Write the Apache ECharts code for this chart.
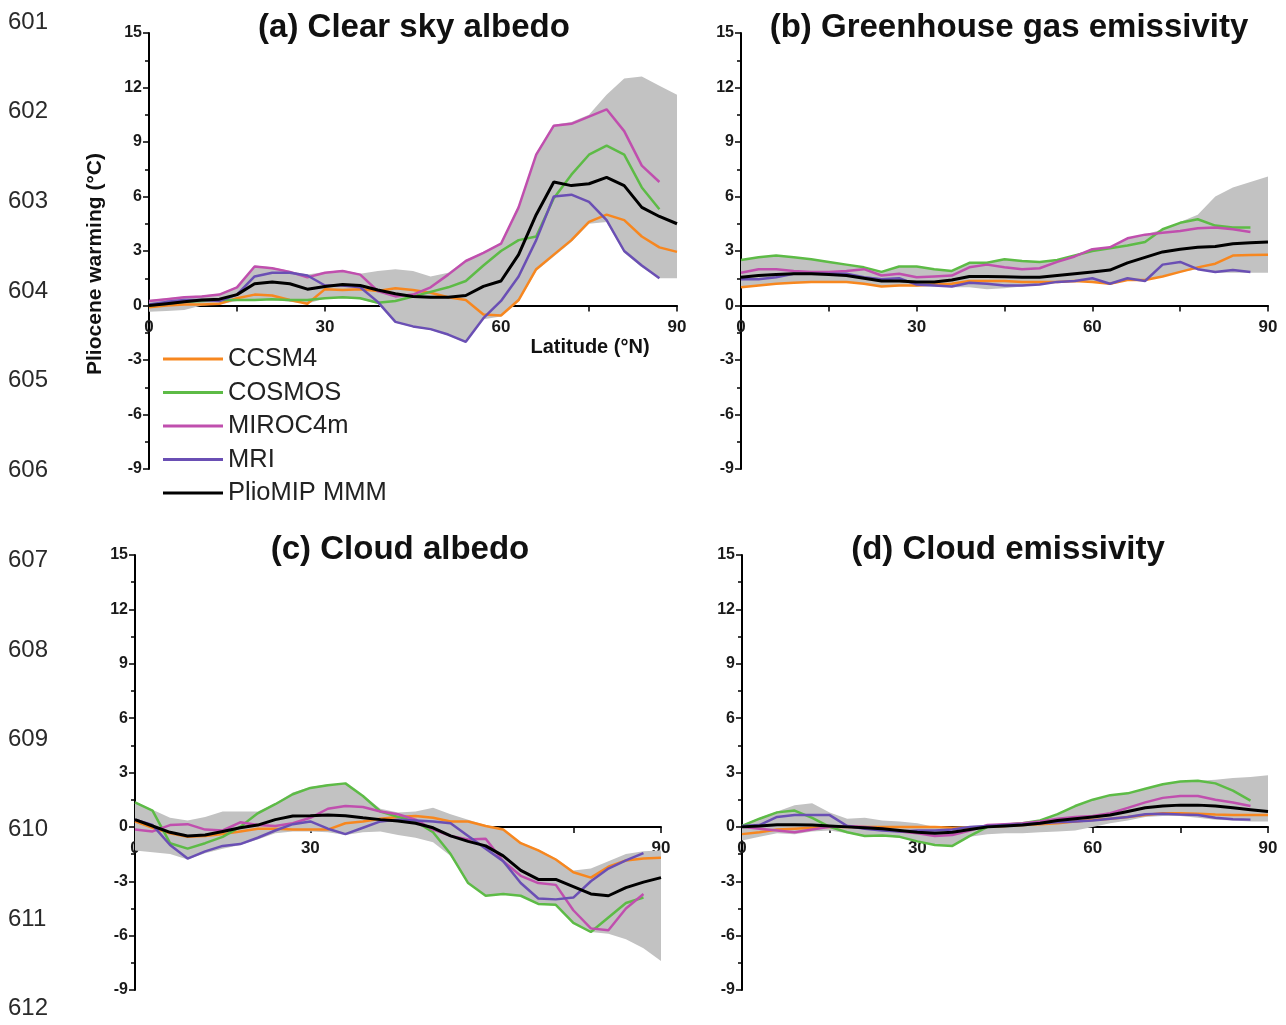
<!DOCTYPE html>
<html>
<head>
<meta charset="utf-8">
<script src="https://cdn.jsdelivr.net/npm/echarts@6/dist/echarts.min.js"></script>
<style>
  html, body { margin: 0; padding: 0; background: #fff; }
  #main { width: 1286px; height: 1025px; }
</style>
</head>
<body>
<div id="main"></div>
<script>
// latitude grid (deg N), shared by every panel
var lat = [0, 3, 6, 9, 12, 15, 18, 21, 24, 27, 30, 33, 36, 39, 42, 45, 48, 51, 54, 57, 60, 63, 66, 69, 72, 75, 78, 81, 84, 87, 90];
var modelNames = ['CCSM4', 'COSMOS', 'MIROC4m', 'MRI', 'PlioMIP MMM'];
var modelColors = ['#f7871f', '#5dbb46', '#c04fae', '#6a4fb4', '#000000'];
var lineNumbers = ['601', '602', '603', '604', '605', '606', '607', '608', '609', '610', '611', '612'];
var yTicks = [-9, 15, 3];   // min, max, step
var xTicks = [0, 90, 30];

// (a) Clear sky albedo
var aCCSM4 = [-0.1, 0.0, 0.05, 0.05, 0.1, 0.4, 0.6, 0.55, 0.3, 0.1, 0.9, 0.85, 0.9, 0.8, 0.95, 0.85, 0.7, 0.45, 0.3, -0.5, -0.55, 0.3, 2.0, 2.8, 3.6, 4.6, 5.0, 4.7, 3.8, 3.2, 2.95];
var aCOSMOS = [0.0, 0.1, 0.2, 0.25, 0.3, 0.3, 0.3, 0.35, 0.3, 0.3, 0.4, 0.45, 0.4, 0.15, 0.25, 0.5, 0.75, 1.0, 1.35, 2.2, 3.0, 3.6, 3.8, 5.9, 7.2, 8.3, 8.8, 8.3, 6.5, 5.3, null];
var aMIROC = [0.25, 0.35, 0.45, 0.5, 0.6, 1.0, 2.15, 2.05, 1.85, 1.55, 1.8, 1.9, 1.7, 0.8, 0.5, 0.6, 1.0, 1.7, 2.45, 2.9, 3.4, 5.4, 8.3, 9.9, 10.0, 10.4, 10.8, 9.6, 7.7, 6.8, null];
var aMRI = [0.05, 0.2, 0.3, 0.3, 0.25, 0.6, 1.6, 1.8, 1.8, 1.65, 1.1, 1.1, 1.0, 0.2, -0.9, -1.15, -1.3, -1.6, -2.0, -0.7, 0.25, 1.6, 3.6, 6.0, 6.1, 5.7, 4.7, 3.0, 2.2, 1.5, null];
var aMMM = [0.0, 0.1, 0.2, 0.3, 0.35, 0.6, 1.2, 1.3, 1.2, 0.9, 1.05, 1.15, 1.1, 0.85, 0.65, 0.5, 0.45, 0.45, 0.55, 1.05, 1.35, 2.8, 5.0, 6.8, 6.6, 6.7, 7.05, 6.6, 5.4, 4.9, 4.5];
var aLo = [-0.35, -0.3, -0.25, 0.0, 0.05, 0.25, 0.3, 0.3, 0.2, 0.1, 0.4, 0.4, 0.35, 0.1, -0.95, -1.2, -1.35, -1.65, -2.05, -0.75, -0.6, 0.2, 1.9, 2.7, 3.5, 4.5, 4.6, 2.9, 2.1, 1.5, 1.5];
var aHi = [0.3, 0.4, 0.5, 0.55, 0.65, 1.05, 2.2, 2.1, 1.9, 1.7, 1.85, 1.95, 1.75, 1.9, 2.0, 1.9, 1.6, 1.8, 2.5, 2.95, 3.45, 5.5, 8.4, 9.95, 10.1, 10.5, 11.6, 12.5, 12.6, 12.1, 11.6];

// (b) Greenhouse gas emissivity
var bCCSM4 = [1.0, 1.1, 1.2, 1.25, 1.3, 1.3, 1.3, 1.2, 1.05, 1.1, 1.1, 1.15, 1.2, 1.35, 1.35, 1.35, 1.3, 1.3, 1.3, 1.35, 1.3, 1.2, 1.4, 1.4, 1.6, 1.85, 2.1, 2.3, 2.75, 2.78, 2.8];
var bCOSMOS = [2.5, 2.65, 2.75, 2.65, 2.55, 2.4, 2.25, 2.1, 1.85, 2.15, 2.15, 2.0, 1.9, 2.35, 2.35, 2.55, 2.45, 2.4, 2.5, 2.75, 3.0, 3.15, 3.3, 3.5, 4.2, 4.55, 4.75, 4.4, 4.3, 4.3, null];
var bMIROC = [1.8, 2.0, 2.0, 1.9, 1.85, 1.85, 1.9, 2.0, 1.65, 1.75, 1.55, 1.6, 1.65, 2.1, 2.25, 2.1, 2.0, 2.05, 2.4, 2.7, 3.1, 3.2, 3.7, 3.9, 4.0, 4.1, 4.25, 4.3, 4.2, 4.05, null];
var bMRI = [1.45, 1.45, 1.55, 1.75, 1.75, 1.75, 1.75, 1.55, 1.45, 1.5, 1.15, 1.1, 1.05, 1.25, 1.2, 1.1, 1.1, 1.15, 1.3, 1.35, 1.5, 1.2, 1.5, 1.35, 2.25, 2.4, 2.0, 1.85, 1.95, 1.85, null];
var bMMM = [1.55, 1.65, 1.7, 1.75, 1.75, 1.7, 1.65, 1.5, 1.35, 1.35, 1.3, 1.3, 1.4, 1.6, 1.6, 1.58, 1.55, 1.55, 1.65, 1.75, 1.85, 1.95, 2.35, 2.65, 2.95, 3.1, 3.2, 3.25, 3.4, 3.45, 3.5];
var bLo = [1.0, 1.1, 1.2, 1.25, 1.3, 1.3, 1.3, 1.2, 1.05, 1.1, 1.05, 1.05, 1.0, 1.0, 0.9, 0.95, 1.05, 1.15, 1.25, 1.3, 1.3, 1.2, 1.4, 1.35, 1.6, 1.85, 2.0, 1.8, 1.8, 1.8, 1.8];
var bHi = [2.5, 2.65, 2.75, 2.65, 2.55, 2.4, 2.25, 2.1, 1.85, 2.15, 2.15, 2.0, 1.9, 2.35, 2.35, 2.55, 2.45, 2.4, 2.5, 2.75, 3.1, 3.2, 3.7, 3.9, 4.2, 4.6, 5.0, 6.0, 6.5, 6.8, 7.1];

// (c) Cloud albedo
var cCCSM4 = [0.3, -0.05, -0.35, -0.55, -0.5, -0.4, -0.25, -0.1, -0.1, -0.15, -0.15, -0.15, 0.2, 0.3, 0.45, 0.55, 0.6, 0.5, 0.3, 0.3, 0.05, -0.15, -0.9, -1.3, -1.8, -2.5, -2.8, -2.2, -1.85, -1.75, -1.7];
var cCOSMOS = [1.35, 0.9, -0.9, -1.2, -0.9, -0.55, 0.0, 0.75, 1.25, 1.8, 2.15, 2.3, 2.4, 1.7, 0.85, 0.55, 0.3, -0.3, -1.5, -3.1, -3.8, -3.7, -3.8, -4.25, -4.3, -5.3, -5.8, -5.0, -4.2, -3.9, null];
var cMIROC = [-0.15, -0.25, 0.1, 0.15, -0.15, -0.2, 0.25, 0.1, 0.05, 0.2, 0.5, 1.0, 1.15, 1.1, 0.85, 0.7, 0.4, -0.15, -0.5, -0.7, -0.65, -1.9, -2.7, -3.1, -3.2, -4.6, -5.6, -5.7, -4.5, -3.7, null];
var cMRI = [0.4, 0.1, -1.0, -1.75, -1.35, -1.05, -0.95, -0.6, -0.2, 0.15, 0.3, -0.1, -0.4, -0.05, 0.3, 0.4, 0.35, 0.3, 0.2, -0.5, -1.2, -1.9, -3.1, -3.95, -4.0, -3.9, -3.0, -2.3, -1.85, -1.45, null];
var cMMM = [0.4, 0.05, -0.3, -0.5, -0.45, -0.25, -0.05, 0.1, 0.4, 0.6, 0.62, 0.66, 0.62, 0.5, 0.4, 0.33, 0.2, -0.05, -0.5, -0.8, -1.05, -1.6, -2.4, -2.9, -2.9, -3.3, -3.7, -3.8, -3.35, -3.05, -2.8];
var cLo = [-1.3, -1.4, -1.5, -1.8, -1.45, -1.2, -1.0, -0.7, -0.35, -0.25, -0.25, -0.3, -0.45, -0.3, -0.25, -0.45, -0.6, -0.85, -1.6, -3.1, -3.8, -3.7, -3.8, -4.25, -4.35, -5.3, -5.8, -5.9, -6.2, -6.7, -7.4];
var cHi = [1.4, 0.95, 0.5, 0.35, 0.55, 0.85, 0.85, 0.85, 1.3, 1.9, 2.2, 2.35, 2.4, 1.75, 1.0, 0.8, 0.85, 1.05, 0.7, 0.4, 0.1, -0.1, -0.85, -1.25, -1.75, -2.4, -2.3, -1.9, -1.5, -1.35, -1.3];

// (d) Cloud emissivity
var dCCSM4 = [-0.4, -0.3, -0.15, -0.1, -0.05, 0.0, 0.0, 0.0, 0.0, 0.0, 0.0, 0.0, -0.05, -0.05, 0.0, 0.05, 0.1, 0.15, 0.2, 0.3, 0.38, 0.45, 0.55, 0.65, 0.75, 0.75, 0.72, 0.68, 0.65, 0.65, 0.65];
var dCOSMOS = [0.05, 0.45, 0.8, 0.9, 0.5, 0.0, -0.3, -0.5, -0.48, -0.55, -0.8, -1.0, -1.05, -0.5, 0.0, 0.12, 0.2, 0.35, 0.7, 1.15, 1.5, 1.75, 1.85, 2.1, 2.35, 2.5, 2.55, 2.4, 2.0, 1.45, null];
var dMIROC = [0.0, -0.1, -0.2, -0.3, -0.15, 0.0, 0.05, 0.0, -0.1, -0.25, -0.35, -0.5, -0.45, -0.2, 0.1, 0.15, 0.2, 0.3, 0.45, 0.55, 0.6, 0.75, 1.05, 1.35, 1.6, 1.7, 1.7, 1.5, 1.35, 1.15, null];
var dMRI = [0.05, 0.1, 0.55, 0.65, 0.65, 0.65, 0.05, -0.1, -0.2, -0.25, -0.2, -0.2, -0.15, 0.0, 0.05, 0.1, 0.15, 0.2, 0.25, 0.3, 0.35, 0.45, 0.55, 0.7, 0.72, 0.68, 0.65, 0.5, 0.42, 0.4, null];
var dMMM = [0.0, 0.05, 0.12, 0.12, 0.1, 0.05, 0.0, -0.05, -0.1, -0.2, -0.3, -0.35, -0.3, -0.15, 0.0, 0.05, 0.1, 0.2, 0.35, 0.45, 0.55, 0.65, 0.85, 1.05, 1.15, 1.2, 1.2, 1.15, 1.05, 0.95, 0.85];
var dLo = [-0.75, -0.55, -0.35, -0.4, -0.25, -0.2, -0.35, -0.5, -0.5, -0.6, -0.8, -1.0, -1.05, -0.55, -0.4, -0.35, -0.35, -0.3, -0.25, -0.2, 0.0, 0.2, 0.35, 0.55, 0.6, 0.6, 0.5, 0.4, 0.35, 0.3, 0.3];
var dHi = [0.1, 0.5, 0.85, 1.2, 1.3, 0.8, 0.45, 0.5, 0.35, 0.3, 0.2, 0.0, 0.0, 0.05, 0.1, 0.2, 0.25, 0.35, 0.7, 1.15, 1.5, 1.75, 1.85, 2.1, 2.35, 2.5, 2.55, 2.6, 2.7, 2.75, 2.85];

var panels = [
    { title: '(a) Clear sky albedo', lines: [aCCSM4, aCOSMOS, aMIROC, aMRI, aMMM], lo: aLo, hi: aHi,
      grid: { left: 149, top: 33, width: 528, height: 436 }, titleX: 414 },
    { title: '(b) Greenhouse gas emissivity', lines: [bCCSM4, bCOSMOS, bMIROC, bMRI, bMMM], lo: bLo, hi: bHi,
      grid: { left: 741, top: 33, width: 527, height: 436 }, titleX: 1009 },
    { title: '(c) Cloud albedo', lines: [cCCSM4, cCOSMOS, cMIROC, cMRI, cMMM], lo: cLo, hi: cHi,
      grid: { left: 135, top: 555, width: 526, height: 435 }, titleX: 400 },
    { title: '(d) Cloud emissivity', lines: [dCCSM4, dCOSMOS, dMIROC, dMRI, dMMM], lo: dLo, hi: dHi,
      grid: { left: 742, top: 555, width: 526, height: 435 }, titleX: 1008 }
];

function pairs(vals) {
    var out = [];
    for (var i = 0; i < lat.length; i++) {
        if (vals[i] !== null) out.push([lat[i], vals[i]]);
    }
    return out;
}

// grey range polygon: upper edge forward, lower edge back, through the axes
function bandRenderer(lo, hi) {
    return function (params, api) {
        var pts = [];
        for (var i = 0; i < lat.length; i++) pts.push(api.coord([lat[i], hi[i]]));
        for (var j = lat.length - 1; j >= 0; j--) pts.push(api.coord([lat[j], lo[j]]));
        return { type: 'polygon', shape: { points: pts }, style: { fill: '#c2c2c2' }, silent: true };
    };
}

var FONT = 'Liberation Sans, Arial, sans-serif';
var grids = [], xAxes = [], yAxes = [], series = [], graphics = [];

panels.forEach(function (p, k) {
    grids.push(p.grid);
    var zeroOffset = -p.grid.height * (0 - yTicks[0]) / (yTicks[1] - yTicks[0]);
    xAxes.push({
        type: 'value', gridIndex: k, min: xTicks[0], max: xTicks[1], interval: xTicks[2],
        position: 'bottom', offset: zeroOffset,
        axisLine: { onZero: false, lineStyle: { color: '#000', width: 2 } },
        axisTick: { length: 6, lineStyle: { color: '#000', width: 1.5 } },
        minorTick: { show: true, splitNumber: 2, length: 6, lineStyle: { color: '#000', width: 1.5 } },
        axisLabel: { color: '#1a1a1a', fontFamily: FONT, fontWeight: 'bold', fontSize: 17, margin: 13 },
        splitLine: { show: false }
    });
    yAxes.push({
        type: 'value', gridIndex: k, min: yTicks[0], max: yTicks[1], interval: yTicks[2],
        axisLine: { show: true, onZero: false, lineStyle: { color: '#000', width: 2 } },
        axisTick: { show: true, length: 6, lineStyle: { color: '#000', width: 1.5 } },
        minorTick: { show: true, splitNumber: 2, length: 4, lineStyle: { color: '#000', width: 1.5 } },
        axisLabel: { color: '#1a1a1a', fontFamily: FONT, fontWeight: 'bold', fontSize: 16, margin: 7 },
        splitLine: { show: false }
    });

    series.push({
        type: 'custom', xAxisIndex: k, yAxisIndex: k, z: 1, silent: true,
        data: [[lat[0], p.lo[0]]],
        renderItem: bandRenderer(p.lo, p.hi)
    });

    p.lines.forEach(function (vals, m) {
        series.push({
            name: modelNames[m], type: 'line', xAxisIndex: k, yAxisIndex: k,
            data: pairs(vals), symbol: 'none', z: m === 4 ? 4 : 3,
            lineStyle: { color: modelColors[m], width: m === 4 ? 3 : 2.5 },
            itemStyle: { color: modelColors[m] }
        });
    });

    graphics.push({
        type: 'text', z: 100, x: p.titleX, y: p.grid.top - 5,
        style: { text: p.title, font: 'bold 33px ' + FONT, fill: '#111', textAlign: 'center', textVerticalAlign: 'middle' }
    });
});

// page line numbers down the left margin
lineNumbers.forEach(function (t, i) {
    graphics.push({
        type: 'text', x: 8, y: 22 + i * 89.7,
        style: { text: t, font: '24px ' + FONT, fill: '#2a2a2a', textVerticalAlign: 'middle' }
    });
});

graphics.push({
    type: 'text', x: 95, y: 264, rotation: Math.PI / 2,
    style: { text: 'Pliocene warming (°C)', font: 'bold 21px ' + FONT, fill: '#111', textAlign: 'center', textVerticalAlign: 'middle' }
});
graphics.push({
    type: 'text', x: 590, y: 347,
    style: { text: 'Latitude (°N)', font: 'bold 20px ' + FONT, fill: '#111', textAlign: 'center', textVerticalAlign: 'middle' }
});

var myChart = echarts.init(document.getElementById('main'));
var option = {
    backgroundColor: '#fff',
    animation: false,
    grid: grids,
    xAxis: xAxes,
    yAxis: yAxes,
    legend: {
        data: modelNames, orient: 'vertical', left: 163, top: 346,
        icon: 'rect', itemWidth: 60, itemHeight: 3, itemGap: 7.5, padding: 0,
        textStyle: { fontFamily: FONT, fontSize: 25.5, color: '#222' }
    },
    graphic: graphics,
    series: series
};
myChart.setOption(option);
</script>
</body>
</html>
